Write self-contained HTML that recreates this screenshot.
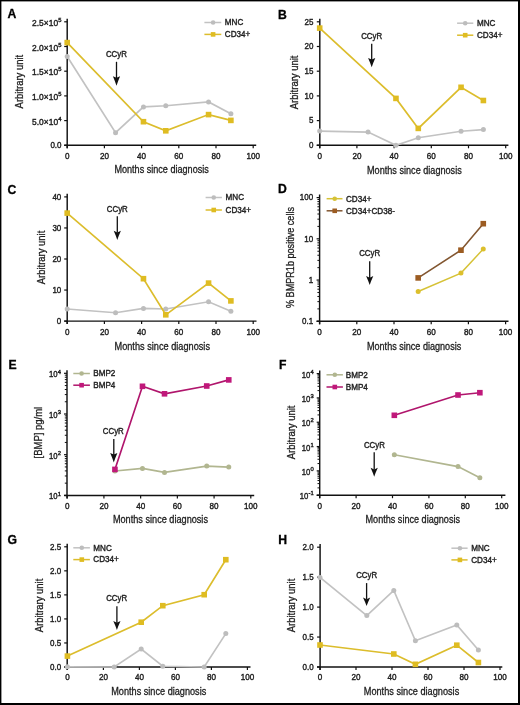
<!DOCTYPE html><html><head><meta charset="utf-8"><title>Figure</title><style>html,body{margin:0;padding:0;background:#fff;width:520px;height:705px;overflow:hidden}svg{will-change:transform} svg text{font-family:"Liberation Sans", sans-serif;stroke:#1e1e1e;stroke-width:0.4px}</style></head><body><svg width="520" height="705" viewBox="0 0 520 705" style="display:block;font-family:"Liberation Sans", sans-serif">
<rect x="0" y="0" width="520" height="705" fill="#fff"/>
<text x="7.60" y="18.10" font-size="12.2" text-anchor="start" font-weight="bold" fill="#000" style="stroke:#000;stroke-width:0.3px">A</text>
<line x1="67.20" y1="18.70" x2="67.20" y2="148.30" stroke="#111" stroke-width="1.45"/>
<line x1="64.20" y1="145.30" x2="67.20" y2="145.30" stroke="#111" stroke-width="1.2"/>
<text x="61.50" y="148.10" font-size="9.0" text-anchor="end" fill="#1e1e1e" textLength="11.12" lengthAdjust="spacingAndGlyphs">0.0</text>
<line x1="64.20" y1="120.60" x2="67.20" y2="120.60" stroke="#111" stroke-width="1.2"/>
<text x="58.07" y="124.60" font-size="9.0" text-anchor="end" fill="#1e1e1e" textLength="26.00" lengthAdjust="spacingAndGlyphs">5.0×10</text><text x="58.27" y="120.80" font-size="5.8" fill="#1e1e1e" textLength="3.23" lengthAdjust="spacingAndGlyphs">4</text>
<line x1="64.20" y1="95.90" x2="67.20" y2="95.90" stroke="#111" stroke-width="1.2"/>
<text x="58.07" y="99.90" font-size="9.0" text-anchor="end" fill="#1e1e1e" textLength="26.00" lengthAdjust="spacingAndGlyphs">1.0×10</text><text x="58.27" y="96.10" font-size="5.8" fill="#1e1e1e" textLength="3.23" lengthAdjust="spacingAndGlyphs">5</text>
<line x1="64.20" y1="71.20" x2="67.20" y2="71.20" stroke="#111" stroke-width="1.2"/>
<text x="58.07" y="75.20" font-size="9.0" text-anchor="end" fill="#1e1e1e" textLength="26.00" lengthAdjust="spacingAndGlyphs">1.5×10</text><text x="58.27" y="71.40" font-size="5.8" fill="#1e1e1e" textLength="3.23" lengthAdjust="spacingAndGlyphs">5</text>
<line x1="64.20" y1="46.50" x2="67.20" y2="46.50" stroke="#111" stroke-width="1.2"/>
<text x="58.07" y="50.50" font-size="9.0" text-anchor="end" fill="#1e1e1e" textLength="26.00" lengthAdjust="spacingAndGlyphs">2.0×10</text><text x="58.27" y="46.70" font-size="5.8" fill="#1e1e1e" textLength="3.23" lengthAdjust="spacingAndGlyphs">5</text>
<line x1="64.20" y1="21.80" x2="67.20" y2="21.80" stroke="#111" stroke-width="1.2"/>
<text x="58.07" y="25.80" font-size="9.0" text-anchor="end" fill="#1e1e1e" textLength="26.00" lengthAdjust="spacingAndGlyphs">2.5×10</text><text x="58.27" y="22.00" font-size="5.8" fill="#1e1e1e" textLength="3.23" lengthAdjust="spacingAndGlyphs">5</text>
<line x1="64.20" y1="145.30" x2="256.20" y2="145.30" stroke="#111" stroke-width="1.45"/>
<line x1="67.20" y1="145.30" x2="67.20" y2="148.30" stroke="#111" stroke-width="1.2"/>
<text x="67.20" y="159.30" font-size="8.9" text-anchor="middle" font-weight="normal" fill="#1e1e1e" textLength="4.50" lengthAdjust="spacingAndGlyphs" >0</text>
<line x1="104.40" y1="145.30" x2="104.40" y2="148.30" stroke="#111" stroke-width="1.2"/>
<text x="104.40" y="159.30" font-size="8.9" text-anchor="middle" font-weight="normal" fill="#1e1e1e" textLength="9.01" lengthAdjust="spacingAndGlyphs" >20</text>
<line x1="141.60" y1="145.30" x2="141.60" y2="148.30" stroke="#111" stroke-width="1.2"/>
<text x="141.60" y="159.30" font-size="8.9" text-anchor="middle" font-weight="normal" fill="#1e1e1e" textLength="9.01" lengthAdjust="spacingAndGlyphs" >40</text>
<line x1="178.80" y1="145.30" x2="178.80" y2="148.30" stroke="#111" stroke-width="1.2"/>
<text x="178.80" y="159.30" font-size="8.9" text-anchor="middle" font-weight="normal" fill="#1e1e1e" textLength="9.01" lengthAdjust="spacingAndGlyphs" >60</text>
<line x1="216.00" y1="145.30" x2="216.00" y2="148.30" stroke="#111" stroke-width="1.2"/>
<text x="216.00" y="159.30" font-size="8.9" text-anchor="middle" font-weight="normal" fill="#1e1e1e" textLength="9.01" lengthAdjust="spacingAndGlyphs" >80</text>
<line x1="253.20" y1="145.30" x2="253.20" y2="148.30" stroke="#111" stroke-width="1.2"/>
<text x="253.20" y="159.30" font-size="8.9" text-anchor="middle" font-weight="normal" fill="#1e1e1e" textLength="13.51" lengthAdjust="spacingAndGlyphs" >100</text>
<text x="0" y="0" font-size="10.2" text-anchor="middle" fill="#1e1e1e" textLength="53.60" lengthAdjust="spacingAndGlyphs" style="stroke-width:0.3px" transform="translate(23.00,81.60) rotate(-90)">Arbitrary unit</text>
<text x="161.60" y="172.90" font-size="10.2" text-anchor="middle" font-weight="normal" fill="#1e1e1e" textLength="94.40" lengthAdjust="spacingAndGlyphs" style="stroke-width:0.3px">Months since diagnosis</text>
<line x1="204.40" y1="22.50" x2="221.30" y2="22.50" stroke="#c2c2c2" stroke-width="1.5"/>
<circle cx="213.10" cy="22.50" r="2.30" fill="#bdbdbd"/>
<text x="224.80" y="25.30" font-size="8.9" text-anchor="start" font-weight="normal" fill="#1e1e1e" textLength="18.45" lengthAdjust="spacingAndGlyphs" >MNC</text>
<line x1="204.40" y1="34.40" x2="221.30" y2="34.40" stroke="#dcbd2c" stroke-width="1.5"/>
<rect x="210.80" y="32.10" width="4.6" height="4.6" fill="#dfbc22"/>
<text x="224.80" y="37.20" font-size="8.9" text-anchor="start" font-weight="normal" fill="#1e1e1e" textLength="25.44" lengthAdjust="spacingAndGlyphs" >CD34+</text>
<text x="116.40" y="56.80" font-size="8.6" text-anchor="middle" font-weight="normal" fill="#1e1e1e" textLength="21.00" lengthAdjust="spacingAndGlyphs" >CCyR</text>
<line x1="116.50" y1="61.80" x2="116.50" y2="78.10" stroke="#111" stroke-width="1.3"/>
<path d="M112.90,76.20 L116.50,77.80 L120.10,76.20 Q117.70,81.80 116.50,85.80 Q115.30,81.80 112.90,76.20 Z" fill="#111"/>
<path d="M67.20,56.50 L115.56,132.70 L143.46,106.90 L165.78,105.80 L208.56,101.90 L230.88,113.80" fill="none" stroke="#c2c2c2" stroke-width="1.65" stroke-linejoin="miter"/>
<circle cx="67.20" cy="56.50" r="2.50" fill="#bdbdbd"/>
<circle cx="115.56" cy="132.70" r="2.50" fill="#bdbdbd"/>
<circle cx="143.46" cy="106.90" r="2.50" fill="#bdbdbd"/>
<circle cx="165.78" cy="105.80" r="2.50" fill="#bdbdbd"/>
<circle cx="208.56" cy="101.90" r="2.50" fill="#bdbdbd"/>
<circle cx="230.88" cy="113.80" r="2.50" fill="#bdbdbd"/>
<path d="M67.20,42.60 L143.46,121.70 L165.78,130.80 L208.56,114.60 L230.88,120.40" fill="none" stroke="#dcbd2c" stroke-width="1.65" stroke-linejoin="miter"/>
<rect x="64.40" y="39.80" width="5.6" height="5.6" fill="#dfbc22"/>
<rect x="140.66" y="118.90" width="5.6" height="5.6" fill="#dfbc22"/>
<rect x="162.98" y="128.00" width="5.6" height="5.6" fill="#dfbc22"/>
<rect x="205.76" y="111.80" width="5.6" height="5.6" fill="#dfbc22"/>
<rect x="228.08" y="117.60" width="5.6" height="5.6" fill="#dfbc22"/>
<text x="278.00" y="18.80" font-size="12.2" text-anchor="start" font-weight="bold" fill="#000" style="stroke:#000;stroke-width:0.3px">B</text>
<line x1="319.80" y1="18.70" x2="319.80" y2="148.30" stroke="#111" stroke-width="1.45"/>
<line x1="316.80" y1="145.30" x2="319.80" y2="145.30" stroke="#111" stroke-width="1.2"/>
<text x="313.50" y="148.10" font-size="9.0" text-anchor="end" fill="#1e1e1e" textLength="4.45" lengthAdjust="spacingAndGlyphs">0</text>
<line x1="316.80" y1="120.60" x2="319.80" y2="120.60" stroke="#111" stroke-width="1.2"/>
<text x="313.50" y="123.40" font-size="9.0" text-anchor="end" fill="#1e1e1e" textLength="4.45" lengthAdjust="spacingAndGlyphs">5</text>
<line x1="316.80" y1="95.90" x2="319.80" y2="95.90" stroke="#111" stroke-width="1.2"/>
<text x="313.50" y="98.70" font-size="9.0" text-anchor="end" fill="#1e1e1e" textLength="8.90" lengthAdjust="spacingAndGlyphs">10</text>
<line x1="316.80" y1="71.20" x2="319.80" y2="71.20" stroke="#111" stroke-width="1.2"/>
<text x="313.50" y="74.00" font-size="9.0" text-anchor="end" fill="#1e1e1e" textLength="8.90" lengthAdjust="spacingAndGlyphs">15</text>
<line x1="316.80" y1="46.50" x2="319.80" y2="46.50" stroke="#111" stroke-width="1.2"/>
<text x="313.50" y="49.30" font-size="9.0" text-anchor="end" fill="#1e1e1e" textLength="8.90" lengthAdjust="spacingAndGlyphs">20</text>
<line x1="316.80" y1="21.80" x2="319.80" y2="21.80" stroke="#111" stroke-width="1.2"/>
<text x="313.50" y="24.60" font-size="9.0" text-anchor="end" fill="#1e1e1e" textLength="8.90" lengthAdjust="spacingAndGlyphs">25</text>
<line x1="316.70" y1="145.30" x2="508.40" y2="145.30" stroke="#111" stroke-width="1.45"/>
<line x1="319.70" y1="145.30" x2="319.70" y2="148.30" stroke="#111" stroke-width="1.2"/>
<text x="319.70" y="159.30" font-size="8.9" text-anchor="middle" font-weight="normal" fill="#1e1e1e" textLength="4.50" lengthAdjust="spacingAndGlyphs" >0</text>
<line x1="356.90" y1="145.30" x2="356.90" y2="148.30" stroke="#111" stroke-width="1.2"/>
<text x="356.90" y="159.30" font-size="8.9" text-anchor="middle" font-weight="normal" fill="#1e1e1e" textLength="9.01" lengthAdjust="spacingAndGlyphs" >20</text>
<line x1="394.10" y1="145.30" x2="394.10" y2="148.30" stroke="#111" stroke-width="1.2"/>
<text x="394.10" y="159.30" font-size="8.9" text-anchor="middle" font-weight="normal" fill="#1e1e1e" textLength="9.01" lengthAdjust="spacingAndGlyphs" >40</text>
<line x1="431.30" y1="145.30" x2="431.30" y2="148.30" stroke="#111" stroke-width="1.2"/>
<text x="431.30" y="159.30" font-size="8.9" text-anchor="middle" font-weight="normal" fill="#1e1e1e" textLength="9.01" lengthAdjust="spacingAndGlyphs" >60</text>
<line x1="468.50" y1="145.30" x2="468.50" y2="148.30" stroke="#111" stroke-width="1.2"/>
<text x="468.50" y="159.30" font-size="8.9" text-anchor="middle" font-weight="normal" fill="#1e1e1e" textLength="9.01" lengthAdjust="spacingAndGlyphs" >80</text>
<line x1="505.70" y1="145.30" x2="505.70" y2="148.30" stroke="#111" stroke-width="1.2"/>
<text x="505.70" y="159.30" font-size="8.9" text-anchor="middle" font-weight="normal" fill="#1e1e1e" textLength="13.51" lengthAdjust="spacingAndGlyphs" >100</text>
<text x="0" y="0" font-size="10.2" text-anchor="middle" fill="#1e1e1e" textLength="53.60" lengthAdjust="spacingAndGlyphs" style="stroke-width:0.3px" transform="translate(298.20,82.40) rotate(-90)">Arbitrary unit</text>
<text x="414.38" y="174.20" font-size="10.2" text-anchor="middle" font-weight="normal" fill="#1e1e1e" textLength="94.75" lengthAdjust="spacingAndGlyphs" style="stroke-width:0.3px">Months since diagnosis</text>
<line x1="457.10" y1="23.20" x2="473.30" y2="23.20" stroke="#c2c2c2" stroke-width="1.5"/>
<circle cx="465.20" cy="23.20" r="2.30" fill="#bdbdbd"/>
<text x="477.00" y="26.00" font-size="8.9" text-anchor="start" font-weight="normal" fill="#1e1e1e" textLength="18.45" lengthAdjust="spacingAndGlyphs" >MNC</text>
<line x1="457.10" y1="35.20" x2="473.30" y2="35.20" stroke="#dcbd2c" stroke-width="1.5"/>
<rect x="462.90" y="32.90" width="4.6" height="4.6" fill="#dfbc22"/>
<text x="477.00" y="38.00" font-size="8.9" text-anchor="start" font-weight="normal" fill="#1e1e1e" textLength="25.44" lengthAdjust="spacingAndGlyphs" >CD34+</text>
<text x="371.70" y="39.00" font-size="8.6" text-anchor="middle" font-weight="normal" fill="#1e1e1e" textLength="21.00" lengthAdjust="spacingAndGlyphs" >CCyR</text>
<line x1="371.70" y1="43.80" x2="371.70" y2="59.90" stroke="#111" stroke-width="1.3"/>
<path d="M368.10,58.00 L371.70,59.60 L375.30,58.00 Q372.90,63.45 371.70,67.30 Q370.50,63.45 368.10,58.00 Z" fill="#111"/>
<path d="M319.70,131.10 L368.06,132.10 L395.96,145.30 L418.28,137.70 L461.06,131.20 L483.38,129.60" fill="none" stroke="#c2c2c2" stroke-width="1.65" stroke-linejoin="miter"/>
<circle cx="319.70" cy="131.10" r="2.50" fill="#bdbdbd"/>
<circle cx="368.06" cy="132.10" r="2.50" fill="#bdbdbd"/>
<circle cx="395.96" cy="145.30" r="2.50" fill="#bdbdbd"/>
<circle cx="418.28" cy="137.70" r="2.50" fill="#bdbdbd"/>
<circle cx="461.06" cy="131.20" r="2.50" fill="#bdbdbd"/>
<circle cx="483.38" cy="129.60" r="2.50" fill="#bdbdbd"/>
<path d="M319.70,28.10 L395.96,98.40 L418.28,128.40 L461.06,87.30 L483.38,100.50" fill="none" stroke="#dcbd2c" stroke-width="1.65" stroke-linejoin="miter"/>
<rect x="316.90" y="25.30" width="5.6" height="5.6" fill="#dfbc22"/>
<rect x="393.16" y="95.60" width="5.6" height="5.6" fill="#dfbc22"/>
<rect x="415.48" y="125.60" width="5.6" height="5.6" fill="#dfbc22"/>
<rect x="458.26" y="84.50" width="5.6" height="5.6" fill="#dfbc22"/>
<rect x="480.58" y="97.70" width="5.6" height="5.6" fill="#dfbc22"/>
<text x="7.60" y="193.90" font-size="12.2" text-anchor="start" font-weight="bold" fill="#000" style="stroke:#000;stroke-width:0.3px">C</text>
<line x1="67.20" y1="193.80" x2="67.20" y2="324.10" stroke="#111" stroke-width="1.45"/>
<line x1="64.20" y1="321.10" x2="67.20" y2="321.10" stroke="#111" stroke-width="1.2"/>
<text x="61.30" y="323.90" font-size="9.0" text-anchor="end" fill="#1e1e1e" textLength="4.45" lengthAdjust="spacingAndGlyphs">0</text>
<line x1="64.20" y1="290.05" x2="67.20" y2="290.05" stroke="#111" stroke-width="1.2"/>
<text x="61.30" y="292.85" font-size="9.0" text-anchor="end" fill="#1e1e1e" textLength="8.90" lengthAdjust="spacingAndGlyphs">10</text>
<line x1="64.20" y1="259.00" x2="67.20" y2="259.00" stroke="#111" stroke-width="1.2"/>
<text x="61.30" y="261.80" font-size="9.0" text-anchor="end" fill="#1e1e1e" textLength="8.90" lengthAdjust="spacingAndGlyphs">20</text>
<line x1="64.20" y1="227.95" x2="67.20" y2="227.95" stroke="#111" stroke-width="1.2"/>
<text x="61.30" y="230.75" font-size="9.0" text-anchor="end" fill="#1e1e1e" textLength="8.90" lengthAdjust="spacingAndGlyphs">30</text>
<line x1="64.20" y1="196.90" x2="67.20" y2="196.90" stroke="#111" stroke-width="1.2"/>
<text x="61.30" y="199.70" font-size="9.0" text-anchor="end" fill="#1e1e1e" textLength="8.90" lengthAdjust="spacingAndGlyphs">40</text>
<line x1="64.20" y1="321.10" x2="256.50" y2="321.10" stroke="#111" stroke-width="1.45"/>
<line x1="67.20" y1="321.10" x2="67.20" y2="324.10" stroke="#111" stroke-width="1.2"/>
<text x="67.20" y="335.10" font-size="8.9" text-anchor="middle" font-weight="normal" fill="#1e1e1e" textLength="4.50" lengthAdjust="spacingAndGlyphs" >0</text>
<line x1="104.40" y1="321.10" x2="104.40" y2="324.10" stroke="#111" stroke-width="1.2"/>
<text x="104.40" y="335.10" font-size="8.9" text-anchor="middle" font-weight="normal" fill="#1e1e1e" textLength="9.01" lengthAdjust="spacingAndGlyphs" >20</text>
<line x1="141.60" y1="321.10" x2="141.60" y2="324.10" stroke="#111" stroke-width="1.2"/>
<text x="141.60" y="335.10" font-size="8.9" text-anchor="middle" font-weight="normal" fill="#1e1e1e" textLength="9.01" lengthAdjust="spacingAndGlyphs" >40</text>
<line x1="178.80" y1="321.10" x2="178.80" y2="324.10" stroke="#111" stroke-width="1.2"/>
<text x="178.80" y="335.10" font-size="8.9" text-anchor="middle" font-weight="normal" fill="#1e1e1e" textLength="9.01" lengthAdjust="spacingAndGlyphs" >60</text>
<line x1="216.00" y1="321.10" x2="216.00" y2="324.10" stroke="#111" stroke-width="1.2"/>
<text x="216.00" y="335.10" font-size="8.9" text-anchor="middle" font-weight="normal" fill="#1e1e1e" textLength="9.01" lengthAdjust="spacingAndGlyphs" >80</text>
<line x1="253.20" y1="321.10" x2="253.20" y2="324.10" stroke="#111" stroke-width="1.2"/>
<text x="253.20" y="335.10" font-size="8.9" text-anchor="middle" font-weight="normal" fill="#1e1e1e" textLength="13.51" lengthAdjust="spacingAndGlyphs" >100</text>
<text x="0" y="0" font-size="10.2" text-anchor="middle" fill="#1e1e1e" textLength="53.60" lengthAdjust="spacingAndGlyphs" style="stroke-width:0.3px" transform="translate(44.60,257.50) rotate(-90)">Arbitrary unit</text>
<text x="162.25" y="350.00" font-size="10.2" text-anchor="middle" font-weight="normal" fill="#1e1e1e" textLength="95.50" lengthAdjust="spacingAndGlyphs" style="stroke-width:0.3px">Months since diagnosis</text>
<line x1="205.60" y1="197.50" x2="221.90" y2="197.50" stroke="#c2c2c2" stroke-width="1.5"/>
<circle cx="213.75" cy="197.50" r="2.30" fill="#bdbdbd"/>
<text x="225.60" y="200.30" font-size="8.9" text-anchor="start" font-weight="normal" fill="#1e1e1e" textLength="18.45" lengthAdjust="spacingAndGlyphs" >MNC</text>
<line x1="205.60" y1="210.00" x2="221.90" y2="210.00" stroke="#dcbd2c" stroke-width="1.5"/>
<rect x="211.45" y="207.70" width="4.6" height="4.6" fill="#dfbc22"/>
<text x="225.60" y="212.80" font-size="8.9" text-anchor="start" font-weight="normal" fill="#1e1e1e" textLength="25.44" lengthAdjust="spacingAndGlyphs" >CD34+</text>
<text x="117.30" y="211.50" font-size="8.6" text-anchor="middle" font-weight="normal" fill="#1e1e1e" textLength="21.00" lengthAdjust="spacingAndGlyphs" >CCyR</text>
<line x1="117.30" y1="216.20" x2="117.30" y2="232.70" stroke="#111" stroke-width="1.3"/>
<path d="M113.70,230.80 L117.30,232.40 L120.90,230.80 Q118.50,236.20 117.30,240.00 Q116.10,236.20 113.70,230.80 Z" fill="#111"/>
<path d="M67.20,309.00 L115.56,312.70 L143.46,308.40 L165.78,309.00 L208.56,301.80 L230.88,311.30" fill="none" stroke="#c2c2c2" stroke-width="1.65" stroke-linejoin="miter"/>
<circle cx="67.20" cy="309.00" r="2.50" fill="#bdbdbd"/>
<circle cx="115.56" cy="312.70" r="2.50" fill="#bdbdbd"/>
<circle cx="143.46" cy="308.40" r="2.50" fill="#bdbdbd"/>
<circle cx="165.78" cy="309.00" r="2.50" fill="#bdbdbd"/>
<circle cx="208.56" cy="301.80" r="2.50" fill="#bdbdbd"/>
<circle cx="230.88" cy="311.30" r="2.50" fill="#bdbdbd"/>
<path d="M67.20,213.10 L143.46,278.70 L165.78,314.80 L208.56,283.10 L230.88,300.90" fill="none" stroke="#dcbd2c" stroke-width="1.65" stroke-linejoin="miter"/>
<rect x="64.40" y="210.30" width="5.6" height="5.6" fill="#dfbc22"/>
<rect x="140.66" y="275.90" width="5.6" height="5.6" fill="#dfbc22"/>
<rect x="162.98" y="312.00" width="5.6" height="5.6" fill="#dfbc22"/>
<rect x="205.76" y="280.30" width="5.6" height="5.6" fill="#dfbc22"/>
<rect x="228.08" y="298.10" width="5.6" height="5.6" fill="#dfbc22"/>
<text x="278.00" y="193.20" font-size="12.2" text-anchor="start" font-weight="bold" fill="#000" style="stroke:#000;stroke-width:0.3px">D</text>
<line x1="319.60" y1="194.50" x2="319.60" y2="324.30" stroke="#111" stroke-width="1.45"/>
<line x1="316.60" y1="321.30" x2="319.60" y2="321.30" stroke="#111" stroke-width="1.2"/>
<text x="313.20" y="324.10" font-size="9.0" text-anchor="end" fill="#1e1e1e" textLength="11.12" lengthAdjust="spacingAndGlyphs">0.1</text>
<line x1="317.40" y1="308.89" x2="319.60" y2="308.89" stroke="#111" stroke-width="1.0"/>
<line x1="317.40" y1="301.63" x2="319.60" y2="301.63" stroke="#111" stroke-width="1.0"/>
<line x1="317.40" y1="296.48" x2="319.60" y2="296.48" stroke="#111" stroke-width="1.0"/>
<line x1="317.40" y1="292.48" x2="319.60" y2="292.48" stroke="#111" stroke-width="1.0"/>
<line x1="317.40" y1="289.21" x2="319.60" y2="289.21" stroke="#111" stroke-width="1.0"/>
<line x1="317.40" y1="286.45" x2="319.60" y2="286.45" stroke="#111" stroke-width="1.0"/>
<line x1="317.40" y1="284.06" x2="319.60" y2="284.06" stroke="#111" stroke-width="1.0"/>
<line x1="317.40" y1="281.95" x2="319.60" y2="281.95" stroke="#111" stroke-width="1.0"/>
<line x1="316.60" y1="280.07" x2="319.60" y2="280.07" stroke="#111" stroke-width="1.2"/>
<text x="313.20" y="282.87" font-size="9.0" text-anchor="end" fill="#1e1e1e" textLength="4.45" lengthAdjust="spacingAndGlyphs">1</text>
<line x1="317.40" y1="267.65" x2="319.60" y2="267.65" stroke="#111" stroke-width="1.0"/>
<line x1="317.40" y1="260.39" x2="319.60" y2="260.39" stroke="#111" stroke-width="1.0"/>
<line x1="317.40" y1="255.24" x2="319.60" y2="255.24" stroke="#111" stroke-width="1.0"/>
<line x1="317.40" y1="251.25" x2="319.60" y2="251.25" stroke="#111" stroke-width="1.0"/>
<line x1="317.40" y1="247.98" x2="319.60" y2="247.98" stroke="#111" stroke-width="1.0"/>
<line x1="317.40" y1="245.22" x2="319.60" y2="245.22" stroke="#111" stroke-width="1.0"/>
<line x1="317.40" y1="242.83" x2="319.60" y2="242.83" stroke="#111" stroke-width="1.0"/>
<line x1="317.40" y1="240.72" x2="319.60" y2="240.72" stroke="#111" stroke-width="1.0"/>
<line x1="316.60" y1="238.83" x2="319.60" y2="238.83" stroke="#111" stroke-width="1.2"/>
<text x="313.20" y="241.63" font-size="9.0" text-anchor="end" fill="#1e1e1e" textLength="8.90" lengthAdjust="spacingAndGlyphs">10</text>
<line x1="317.40" y1="226.42" x2="319.60" y2="226.42" stroke="#111" stroke-width="1.0"/>
<line x1="317.40" y1="219.16" x2="319.60" y2="219.16" stroke="#111" stroke-width="1.0"/>
<line x1="317.40" y1="214.01" x2="319.60" y2="214.01" stroke="#111" stroke-width="1.0"/>
<line x1="317.40" y1="210.01" x2="319.60" y2="210.01" stroke="#111" stroke-width="1.0"/>
<line x1="317.40" y1="206.75" x2="319.60" y2="206.75" stroke="#111" stroke-width="1.0"/>
<line x1="317.40" y1="203.99" x2="319.60" y2="203.99" stroke="#111" stroke-width="1.0"/>
<line x1="317.40" y1="201.60" x2="319.60" y2="201.60" stroke="#111" stroke-width="1.0"/>
<line x1="317.40" y1="199.49" x2="319.60" y2="199.49" stroke="#111" stroke-width="1.0"/>
<line x1="316.60" y1="197.60" x2="319.60" y2="197.60" stroke="#111" stroke-width="1.2"/>
<text x="313.20" y="200.40" font-size="9.0" text-anchor="end" fill="#1e1e1e" textLength="13.35" lengthAdjust="spacingAndGlyphs">100</text>
<line x1="316.60" y1="321.30" x2="508.50" y2="321.30" stroke="#111" stroke-width="1.45"/>
<line x1="319.60" y1="321.30" x2="319.60" y2="324.30" stroke="#111" stroke-width="1.2"/>
<text x="319.60" y="335.30" font-size="8.9" text-anchor="middle" font-weight="normal" fill="#1e1e1e" textLength="4.50" lengthAdjust="spacingAndGlyphs" >0</text>
<line x1="356.80" y1="321.30" x2="356.80" y2="324.30" stroke="#111" stroke-width="1.2"/>
<text x="356.80" y="335.30" font-size="8.9" text-anchor="middle" font-weight="normal" fill="#1e1e1e" textLength="9.01" lengthAdjust="spacingAndGlyphs" >20</text>
<line x1="394.00" y1="321.30" x2="394.00" y2="324.30" stroke="#111" stroke-width="1.2"/>
<text x="394.00" y="335.30" font-size="8.9" text-anchor="middle" font-weight="normal" fill="#1e1e1e" textLength="9.01" lengthAdjust="spacingAndGlyphs" >40</text>
<line x1="431.20" y1="321.30" x2="431.20" y2="324.30" stroke="#111" stroke-width="1.2"/>
<text x="431.20" y="335.30" font-size="8.9" text-anchor="middle" font-weight="normal" fill="#1e1e1e" textLength="9.01" lengthAdjust="spacingAndGlyphs" >60</text>
<line x1="468.40" y1="321.30" x2="468.40" y2="324.30" stroke="#111" stroke-width="1.2"/>
<text x="468.40" y="335.30" font-size="8.9" text-anchor="middle" font-weight="normal" fill="#1e1e1e" textLength="9.01" lengthAdjust="spacingAndGlyphs" >80</text>
<line x1="505.60" y1="321.30" x2="505.60" y2="324.30" stroke="#111" stroke-width="1.2"/>
<text x="505.60" y="335.30" font-size="8.9" text-anchor="middle" font-weight="normal" fill="#1e1e1e" textLength="13.51" lengthAdjust="spacingAndGlyphs" >100</text>
<text x="0" y="0" font-size="10.2" text-anchor="middle" fill="#1e1e1e" textLength="101.00" lengthAdjust="spacingAndGlyphs" style="stroke-width:0.3px" transform="translate(293.80,257.50) rotate(-90)">% BMPR1b positive cells</text>
<text x="414.12" y="350.00" font-size="10.2" text-anchor="middle" font-weight="normal" fill="#1e1e1e" textLength="94.25" lengthAdjust="spacingAndGlyphs" style="stroke-width:0.3px">Months since diagnosis</text>
<line x1="326.60" y1="198.70" x2="342.50" y2="198.70" stroke="#d6c236" stroke-width="1.5"/>
<circle cx="334.70" cy="198.70" r="2.30" fill="#d6c236"/>
<text x="346.00" y="201.50" font-size="8.9" text-anchor="start" font-weight="normal" fill="#1e1e1e" textLength="25.44" lengthAdjust="spacingAndGlyphs" >CD34+</text>
<line x1="326.60" y1="210.80" x2="342.50" y2="210.80" stroke="#825630" stroke-width="1.5"/>
<rect x="332.40" y="208.50" width="4.6" height="4.6" fill="#9c5c22"/>
<text x="346.00" y="213.60" font-size="8.9" text-anchor="start" font-weight="normal" fill="#1e1e1e" textLength="48.85" lengthAdjust="spacingAndGlyphs" >CD34+CD38-</text>
<text x="369.70" y="256.30" font-size="8.6" text-anchor="middle" font-weight="normal" fill="#1e1e1e" textLength="21.00" lengthAdjust="spacingAndGlyphs" >CCyR</text>
<line x1="369.70" y1="261.20" x2="369.70" y2="278.00" stroke="#111" stroke-width="1.3"/>
<path d="M366.10,276.10 L369.70,277.70 L373.30,276.10 Q370.90,281.40 369.70,285.10 Q368.50,281.40 366.10,276.10 Z" fill="#111"/>
<path d="M418.18,277.90 L460.96,250.20 L483.28,223.70" fill="none" stroke="#825630" stroke-width="1.6" stroke-linejoin="miter"/>
<rect x="415.38" y="275.10" width="5.6" height="5.6" fill="#9c5c22"/>
<rect x="458.16" y="247.40" width="5.6" height="5.6" fill="#9c5c22"/>
<rect x="480.48" y="220.90" width="5.6" height="5.6" fill="#9c5c22"/>
<path d="M418.18,291.50 L460.96,273.10 L483.28,249.00" fill="none" stroke="#d6c236" stroke-width="1.45" stroke-linejoin="miter"/>
<circle cx="418.18" cy="291.50" r="2.50" fill="#dcbf2c"/>
<circle cx="460.96" cy="273.10" r="2.50" fill="#dcbf2c"/>
<circle cx="483.28" cy="249.00" r="2.50" fill="#dcbf2c"/>
<text x="8.40" y="369.20" font-size="12.2" text-anchor="start" font-weight="bold" fill="#000" style="stroke:#000;stroke-width:0.3px">E</text>
<line x1="67.00" y1="370.20" x2="67.00" y2="498.40" stroke="#111" stroke-width="1.45"/>
<line x1="64.00" y1="495.40" x2="67.00" y2="495.40" stroke="#111" stroke-width="1.2"/>
<text x="57.57" y="499.40" font-size="9.0" text-anchor="end" fill="#1e1e1e" textLength="8.60" lengthAdjust="spacingAndGlyphs">10</text><text x="57.77" y="495.60" font-size="5.8" fill="#1e1e1e" textLength="3.23" lengthAdjust="spacingAndGlyphs">1</text>
<line x1="64.80" y1="483.15" x2="67.00" y2="483.15" stroke="#111" stroke-width="1.0"/>
<line x1="64.80" y1="475.98" x2="67.00" y2="475.98" stroke="#111" stroke-width="1.0"/>
<line x1="64.80" y1="470.90" x2="67.00" y2="470.90" stroke="#111" stroke-width="1.0"/>
<line x1="64.80" y1="466.95" x2="67.00" y2="466.95" stroke="#111" stroke-width="1.0"/>
<line x1="64.80" y1="463.73" x2="67.00" y2="463.73" stroke="#111" stroke-width="1.0"/>
<line x1="64.80" y1="461.00" x2="67.00" y2="461.00" stroke="#111" stroke-width="1.0"/>
<line x1="64.80" y1="458.64" x2="67.00" y2="458.64" stroke="#111" stroke-width="1.0"/>
<line x1="64.80" y1="456.56" x2="67.00" y2="456.56" stroke="#111" stroke-width="1.0"/>
<line x1="64.00" y1="454.70" x2="67.00" y2="454.70" stroke="#111" stroke-width="1.2"/>
<text x="57.57" y="458.70" font-size="9.0" text-anchor="end" fill="#1e1e1e" textLength="8.60" lengthAdjust="spacingAndGlyphs">10</text><text x="57.77" y="454.90" font-size="5.8" fill="#1e1e1e" textLength="3.23" lengthAdjust="spacingAndGlyphs">2</text>
<line x1="64.80" y1="442.45" x2="67.00" y2="442.45" stroke="#111" stroke-width="1.0"/>
<line x1="64.80" y1="435.28" x2="67.00" y2="435.28" stroke="#111" stroke-width="1.0"/>
<line x1="64.80" y1="430.20" x2="67.00" y2="430.20" stroke="#111" stroke-width="1.0"/>
<line x1="64.80" y1="426.25" x2="67.00" y2="426.25" stroke="#111" stroke-width="1.0"/>
<line x1="64.80" y1="423.03" x2="67.00" y2="423.03" stroke="#111" stroke-width="1.0"/>
<line x1="64.80" y1="420.30" x2="67.00" y2="420.30" stroke="#111" stroke-width="1.0"/>
<line x1="64.80" y1="417.94" x2="67.00" y2="417.94" stroke="#111" stroke-width="1.0"/>
<line x1="64.80" y1="415.86" x2="67.00" y2="415.86" stroke="#111" stroke-width="1.0"/>
<line x1="64.00" y1="414.00" x2="67.00" y2="414.00" stroke="#111" stroke-width="1.2"/>
<text x="57.57" y="418.00" font-size="9.0" text-anchor="end" fill="#1e1e1e" textLength="8.60" lengthAdjust="spacingAndGlyphs">10</text><text x="57.77" y="414.20" font-size="5.8" fill="#1e1e1e" textLength="3.23" lengthAdjust="spacingAndGlyphs">3</text>
<line x1="64.80" y1="401.75" x2="67.00" y2="401.75" stroke="#111" stroke-width="1.0"/>
<line x1="64.80" y1="394.58" x2="67.00" y2="394.58" stroke="#111" stroke-width="1.0"/>
<line x1="64.80" y1="389.50" x2="67.00" y2="389.50" stroke="#111" stroke-width="1.0"/>
<line x1="64.80" y1="385.55" x2="67.00" y2="385.55" stroke="#111" stroke-width="1.0"/>
<line x1="64.80" y1="382.33" x2="67.00" y2="382.33" stroke="#111" stroke-width="1.0"/>
<line x1="64.80" y1="379.60" x2="67.00" y2="379.60" stroke="#111" stroke-width="1.0"/>
<line x1="64.80" y1="377.24" x2="67.00" y2="377.24" stroke="#111" stroke-width="1.0"/>
<line x1="64.80" y1="375.16" x2="67.00" y2="375.16" stroke="#111" stroke-width="1.0"/>
<line x1="64.00" y1="373.30" x2="67.00" y2="373.30" stroke="#111" stroke-width="1.2"/>
<text x="57.57" y="377.30" font-size="9.0" text-anchor="end" fill="#1e1e1e" textLength="8.60" lengthAdjust="spacingAndGlyphs">10</text><text x="57.77" y="373.50" font-size="5.8" fill="#1e1e1e" textLength="3.23" lengthAdjust="spacingAndGlyphs">4</text>
<line x1="64.20" y1="495.40" x2="254.20" y2="495.40" stroke="#111" stroke-width="1.45"/>
<line x1="67.20" y1="495.40" x2="67.20" y2="498.40" stroke="#111" stroke-width="1.2"/>
<text x="67.20" y="509.40" font-size="8.9" text-anchor="middle" font-weight="normal" fill="#1e1e1e" textLength="4.50" lengthAdjust="spacingAndGlyphs" >0</text>
<line x1="103.92" y1="495.40" x2="103.92" y2="498.40" stroke="#111" stroke-width="1.2"/>
<text x="103.92" y="509.40" font-size="8.9" text-anchor="middle" font-weight="normal" fill="#1e1e1e" textLength="9.01" lengthAdjust="spacingAndGlyphs" >20</text>
<line x1="140.64" y1="495.40" x2="140.64" y2="498.40" stroke="#111" stroke-width="1.2"/>
<text x="140.64" y="509.40" font-size="8.9" text-anchor="middle" font-weight="normal" fill="#1e1e1e" textLength="9.01" lengthAdjust="spacingAndGlyphs" >40</text>
<line x1="177.36" y1="495.40" x2="177.36" y2="498.40" stroke="#111" stroke-width="1.2"/>
<text x="177.36" y="509.40" font-size="8.9" text-anchor="middle" font-weight="normal" fill="#1e1e1e" textLength="9.01" lengthAdjust="spacingAndGlyphs" >60</text>
<line x1="214.08" y1="495.40" x2="214.08" y2="498.40" stroke="#111" stroke-width="1.2"/>
<text x="214.08" y="509.40" font-size="8.9" text-anchor="middle" font-weight="normal" fill="#1e1e1e" textLength="9.01" lengthAdjust="spacingAndGlyphs" >80</text>
<line x1="250.80" y1="495.40" x2="250.80" y2="498.40" stroke="#111" stroke-width="1.2"/>
<text x="250.80" y="509.40" font-size="8.9" text-anchor="middle" font-weight="normal" fill="#1e1e1e" textLength="13.51" lengthAdjust="spacingAndGlyphs" >100</text>
<text x="0" y="0" font-size="10.2" text-anchor="middle" fill="#1e1e1e" textLength="51.60" lengthAdjust="spacingAndGlyphs" style="stroke-width:0.3px" transform="translate(42.40,432.60) rotate(-90)">[BMP] pg/ml</text>
<text x="160.45" y="523.00" font-size="10.2" text-anchor="middle" font-weight="normal" fill="#1e1e1e" textLength="95.10" lengthAdjust="spacingAndGlyphs" style="stroke-width:0.3px">Months since diagnosis</text>
<line x1="73.30" y1="373.50" x2="89.90" y2="373.50" stroke="#b1b690" stroke-width="1.5"/>
<circle cx="81.60" cy="373.50" r="2.30" fill="#b1b690"/>
<text x="93.30" y="376.30" font-size="8.9" text-anchor="start" font-weight="normal" fill="#1e1e1e" textLength="22.06" lengthAdjust="spacingAndGlyphs" >BMP2</text>
<line x1="73.30" y1="385.20" x2="89.90" y2="385.20" stroke="#b0156c" stroke-width="1.5"/>
<rect x="79.30" y="382.90" width="4.6" height="4.6" fill="#c0187a"/>
<text x="93.30" y="388.00" font-size="8.9" text-anchor="start" font-weight="normal" fill="#1e1e1e" textLength="22.06" lengthAdjust="spacingAndGlyphs" >BMP4</text>
<text x="113.30" y="433.80" font-size="8.6" text-anchor="middle" font-weight="normal" fill="#1e1e1e" textLength="21.00" lengthAdjust="spacingAndGlyphs" >CCyR</text>
<line x1="113.80" y1="439.00" x2="113.80" y2="454.90" stroke="#111" stroke-width="1.3"/>
<path d="M110.20,453.00 L113.80,454.60 L117.40,453.00 Q115.00,458.55 113.80,462.50 Q112.60,458.55 110.20,453.00 Z" fill="#111"/>
<path d="M114.94,471.00 L142.48,468.40 L164.51,472.40 L206.74,466.10 L228.77,467.10" fill="none" stroke="#b1b690" stroke-width="1.65" stroke-linejoin="miter"/>
<circle cx="114.94" cy="471.00" r="2.50" fill="#b1b690"/>
<circle cx="142.48" cy="468.40" r="2.50" fill="#b1b690"/>
<circle cx="164.51" cy="472.40" r="2.50" fill="#b1b690"/>
<circle cx="206.74" cy="466.10" r="2.50" fill="#b1b690"/>
<circle cx="228.77" cy="467.10" r="2.50" fill="#b1b690"/>
<path d="M114.94,469.40 L142.48,386.30 L164.51,393.80 L206.74,386.00 L228.77,379.90" fill="none" stroke="#b0156c" stroke-width="1.65" stroke-linejoin="miter"/>
<rect x="112.14" y="466.60" width="5.6" height="5.6" fill="#c0187a"/>
<rect x="139.68" y="383.50" width="5.6" height="5.6" fill="#c0187a"/>
<rect x="161.71" y="391.00" width="5.6" height="5.6" fill="#c0187a"/>
<rect x="203.94" y="383.20" width="5.6" height="5.6" fill="#c0187a"/>
<rect x="225.97" y="377.10" width="5.6" height="5.6" fill="#c0187a"/>
<text x="279.00" y="369.00" font-size="12.2" text-anchor="start" font-weight="bold" fill="#000" style="stroke:#000;stroke-width:0.3px">F</text>
<line x1="319.70" y1="370.50" x2="319.70" y2="498.20" stroke="#111" stroke-width="1.45"/>
<line x1="316.70" y1="495.20" x2="319.70" y2="495.20" stroke="#111" stroke-width="1.2"/>
<text x="308.34" y="499.20" font-size="9.0" text-anchor="end" fill="#1e1e1e" textLength="8.60" lengthAdjust="spacingAndGlyphs">10</text><text x="308.54" y="495.40" font-size="5.8" fill="#1e1e1e" textLength="5.16" lengthAdjust="spacingAndGlyphs">-1</text>
<line x1="317.50" y1="487.88" x2="319.70" y2="487.88" stroke="#111" stroke-width="1.0"/>
<line x1="317.50" y1="483.60" x2="319.70" y2="483.60" stroke="#111" stroke-width="1.0"/>
<line x1="317.50" y1="480.56" x2="319.70" y2="480.56" stroke="#111" stroke-width="1.0"/>
<line x1="317.50" y1="478.20" x2="319.70" y2="478.20" stroke="#111" stroke-width="1.0"/>
<line x1="317.50" y1="476.28" x2="319.70" y2="476.28" stroke="#111" stroke-width="1.0"/>
<line x1="317.50" y1="474.65" x2="319.70" y2="474.65" stroke="#111" stroke-width="1.0"/>
<line x1="317.50" y1="473.24" x2="319.70" y2="473.24" stroke="#111" stroke-width="1.0"/>
<line x1="317.50" y1="471.99" x2="319.70" y2="471.99" stroke="#111" stroke-width="1.0"/>
<line x1="316.70" y1="470.88" x2="319.70" y2="470.88" stroke="#111" stroke-width="1.2"/>
<text x="310.27" y="474.88" font-size="9.0" text-anchor="end" fill="#1e1e1e" textLength="8.60" lengthAdjust="spacingAndGlyphs">10</text><text x="310.47" y="471.08" font-size="5.8" fill="#1e1e1e" textLength="3.23" lengthAdjust="spacingAndGlyphs">0</text>
<line x1="317.50" y1="463.56" x2="319.70" y2="463.56" stroke="#111" stroke-width="1.0"/>
<line x1="317.50" y1="459.28" x2="319.70" y2="459.28" stroke="#111" stroke-width="1.0"/>
<line x1="317.50" y1="456.24" x2="319.70" y2="456.24" stroke="#111" stroke-width="1.0"/>
<line x1="317.50" y1="453.88" x2="319.70" y2="453.88" stroke="#111" stroke-width="1.0"/>
<line x1="317.50" y1="451.96" x2="319.70" y2="451.96" stroke="#111" stroke-width="1.0"/>
<line x1="317.50" y1="450.33" x2="319.70" y2="450.33" stroke="#111" stroke-width="1.0"/>
<line x1="317.50" y1="448.92" x2="319.70" y2="448.92" stroke="#111" stroke-width="1.0"/>
<line x1="317.50" y1="447.67" x2="319.70" y2="447.67" stroke="#111" stroke-width="1.0"/>
<line x1="316.70" y1="446.56" x2="319.70" y2="446.56" stroke="#111" stroke-width="1.2"/>
<text x="310.27" y="450.56" font-size="9.0" text-anchor="end" fill="#1e1e1e" textLength="8.60" lengthAdjust="spacingAndGlyphs">10</text><text x="310.47" y="446.76" font-size="5.8" fill="#1e1e1e" textLength="3.23" lengthAdjust="spacingAndGlyphs">1</text>
<line x1="317.50" y1="439.24" x2="319.70" y2="439.24" stroke="#111" stroke-width="1.0"/>
<line x1="317.50" y1="434.96" x2="319.70" y2="434.96" stroke="#111" stroke-width="1.0"/>
<line x1="317.50" y1="431.92" x2="319.70" y2="431.92" stroke="#111" stroke-width="1.0"/>
<line x1="317.50" y1="429.56" x2="319.70" y2="429.56" stroke="#111" stroke-width="1.0"/>
<line x1="317.50" y1="427.64" x2="319.70" y2="427.64" stroke="#111" stroke-width="1.0"/>
<line x1="317.50" y1="426.01" x2="319.70" y2="426.01" stroke="#111" stroke-width="1.0"/>
<line x1="317.50" y1="424.60" x2="319.70" y2="424.60" stroke="#111" stroke-width="1.0"/>
<line x1="317.50" y1="423.35" x2="319.70" y2="423.35" stroke="#111" stroke-width="1.0"/>
<line x1="316.70" y1="422.24" x2="319.70" y2="422.24" stroke="#111" stroke-width="1.2"/>
<text x="310.27" y="426.24" font-size="9.0" text-anchor="end" fill="#1e1e1e" textLength="8.60" lengthAdjust="spacingAndGlyphs">10</text><text x="310.47" y="422.44" font-size="5.8" fill="#1e1e1e" textLength="3.23" lengthAdjust="spacingAndGlyphs">2</text>
<line x1="317.50" y1="414.92" x2="319.70" y2="414.92" stroke="#111" stroke-width="1.0"/>
<line x1="317.50" y1="410.64" x2="319.70" y2="410.64" stroke="#111" stroke-width="1.0"/>
<line x1="317.50" y1="407.60" x2="319.70" y2="407.60" stroke="#111" stroke-width="1.0"/>
<line x1="317.50" y1="405.24" x2="319.70" y2="405.24" stroke="#111" stroke-width="1.0"/>
<line x1="317.50" y1="403.32" x2="319.70" y2="403.32" stroke="#111" stroke-width="1.0"/>
<line x1="317.50" y1="401.69" x2="319.70" y2="401.69" stroke="#111" stroke-width="1.0"/>
<line x1="317.50" y1="400.28" x2="319.70" y2="400.28" stroke="#111" stroke-width="1.0"/>
<line x1="317.50" y1="399.03" x2="319.70" y2="399.03" stroke="#111" stroke-width="1.0"/>
<line x1="316.70" y1="397.92" x2="319.70" y2="397.92" stroke="#111" stroke-width="1.2"/>
<text x="310.27" y="401.92" font-size="9.0" text-anchor="end" fill="#1e1e1e" textLength="8.60" lengthAdjust="spacingAndGlyphs">10</text><text x="310.47" y="398.12" font-size="5.8" fill="#1e1e1e" textLength="3.23" lengthAdjust="spacingAndGlyphs">3</text>
<line x1="317.50" y1="390.60" x2="319.70" y2="390.60" stroke="#111" stroke-width="1.0"/>
<line x1="317.50" y1="386.32" x2="319.70" y2="386.32" stroke="#111" stroke-width="1.0"/>
<line x1="317.50" y1="383.28" x2="319.70" y2="383.28" stroke="#111" stroke-width="1.0"/>
<line x1="317.50" y1="380.92" x2="319.70" y2="380.92" stroke="#111" stroke-width="1.0"/>
<line x1="317.50" y1="379.00" x2="319.70" y2="379.00" stroke="#111" stroke-width="1.0"/>
<line x1="317.50" y1="377.37" x2="319.70" y2="377.37" stroke="#111" stroke-width="1.0"/>
<line x1="317.50" y1="375.96" x2="319.70" y2="375.96" stroke="#111" stroke-width="1.0"/>
<line x1="317.50" y1="374.71" x2="319.70" y2="374.71" stroke="#111" stroke-width="1.0"/>
<line x1="316.70" y1="373.60" x2="319.70" y2="373.60" stroke="#111" stroke-width="1.2"/>
<text x="310.27" y="377.60" font-size="9.0" text-anchor="end" fill="#1e1e1e" textLength="8.60" lengthAdjust="spacingAndGlyphs">10</text><text x="310.47" y="373.80" font-size="5.8" fill="#1e1e1e" textLength="3.23" lengthAdjust="spacingAndGlyphs">4</text>
<line x1="316.70" y1="495.20" x2="505.40" y2="495.20" stroke="#111" stroke-width="1.45"/>
<line x1="319.70" y1="495.20" x2="319.70" y2="498.20" stroke="#111" stroke-width="1.2"/>
<text x="319.70" y="509.20" font-size="8.9" text-anchor="middle" font-weight="normal" fill="#1e1e1e" textLength="4.50" lengthAdjust="spacingAndGlyphs" >0</text>
<line x1="356.10" y1="495.20" x2="356.10" y2="498.20" stroke="#111" stroke-width="1.2"/>
<text x="356.10" y="509.20" font-size="8.9" text-anchor="middle" font-weight="normal" fill="#1e1e1e" textLength="9.01" lengthAdjust="spacingAndGlyphs" >20</text>
<line x1="392.50" y1="495.20" x2="392.50" y2="498.20" stroke="#111" stroke-width="1.2"/>
<text x="392.50" y="509.20" font-size="8.9" text-anchor="middle" font-weight="normal" fill="#1e1e1e" textLength="9.01" lengthAdjust="spacingAndGlyphs" >40</text>
<line x1="428.90" y1="495.20" x2="428.90" y2="498.20" stroke="#111" stroke-width="1.2"/>
<text x="428.90" y="509.20" font-size="8.9" text-anchor="middle" font-weight="normal" fill="#1e1e1e" textLength="9.01" lengthAdjust="spacingAndGlyphs" >60</text>
<line x1="465.30" y1="495.20" x2="465.30" y2="498.20" stroke="#111" stroke-width="1.2"/>
<text x="465.30" y="509.20" font-size="8.9" text-anchor="middle" font-weight="normal" fill="#1e1e1e" textLength="9.01" lengthAdjust="spacingAndGlyphs" >80</text>
<line x1="501.70" y1="495.20" x2="501.70" y2="498.20" stroke="#111" stroke-width="1.2"/>
<text x="501.70" y="509.20" font-size="8.9" text-anchor="middle" font-weight="normal" fill="#1e1e1e" textLength="13.51" lengthAdjust="spacingAndGlyphs" >100</text>
<text x="0" y="0" font-size="10.2" text-anchor="middle" fill="#1e1e1e" textLength="53.60" lengthAdjust="spacingAndGlyphs" style="stroke-width:0.3px" transform="translate(294.90,432.40) rotate(-90)">Arbitrary unit</text>
<text x="412.75" y="523.00" font-size="10.2" text-anchor="middle" font-weight="normal" fill="#1e1e1e" textLength="94.50" lengthAdjust="spacingAndGlyphs" style="stroke-width:0.3px">Months since diagnosis</text>
<line x1="326.50" y1="374.80" x2="342.90" y2="374.80" stroke="#b1b690" stroke-width="1.5"/>
<circle cx="334.80" cy="374.80" r="2.30" fill="#b1b690"/>
<text x="345.80" y="377.60" font-size="8.9" text-anchor="start" font-weight="normal" fill="#1e1e1e" textLength="22.06" lengthAdjust="spacingAndGlyphs" >BMP2</text>
<line x1="326.50" y1="387.00" x2="342.90" y2="387.00" stroke="#b0156c" stroke-width="1.5"/>
<rect x="332.50" y="384.70" width="4.6" height="4.6" fill="#c0187a"/>
<text x="345.80" y="389.80" font-size="8.9" text-anchor="start" font-weight="normal" fill="#1e1e1e" textLength="22.06" lengthAdjust="spacingAndGlyphs" >BMP4</text>
<text x="374.40" y="447.70" font-size="8.6" text-anchor="middle" font-weight="normal" fill="#1e1e1e" textLength="21.00" lengthAdjust="spacingAndGlyphs" >CCyR</text>
<line x1="374.20" y1="452.30" x2="374.20" y2="469.70" stroke="#111" stroke-width="1.3"/>
<path d="M370.60,467.80 L374.20,469.40 L377.80,467.80 Q375.40,473.05 374.20,476.70 Q373.00,473.05 370.60,467.80 Z" fill="#111"/>
<path d="M394.32,454.70 L458.02,466.60 L479.86,477.70" fill="none" stroke="#b1b690" stroke-width="1.65" stroke-linejoin="miter"/>
<circle cx="394.32" cy="454.70" r="2.50" fill="#b1b690"/>
<circle cx="458.02" cy="466.60" r="2.50" fill="#b1b690"/>
<circle cx="479.86" cy="477.70" r="2.50" fill="#b1b690"/>
<path d="M394.32,415.30 L458.02,395.00 L479.86,392.70" fill="none" stroke="#b0156c" stroke-width="1.65" stroke-linejoin="miter"/>
<rect x="391.52" y="412.50" width="5.6" height="5.6" fill="#c0187a"/>
<rect x="455.22" y="392.20" width="5.6" height="5.6" fill="#c0187a"/>
<rect x="477.06" y="389.90" width="5.6" height="5.6" fill="#c0187a"/>
<text x="7.60" y="543.60" font-size="12.2" text-anchor="start" font-weight="bold" fill="#000" style="stroke:#000;stroke-width:0.3px">G</text>
<line x1="67.20" y1="543.70" x2="67.20" y2="670.00" stroke="#111" stroke-width="1.45"/>
<line x1="64.20" y1="667.00" x2="67.20" y2="667.00" stroke="#111" stroke-width="1.2"/>
<text x="61.20" y="669.80" font-size="9.0" text-anchor="end" fill="#1e1e1e" textLength="11.12" lengthAdjust="spacingAndGlyphs">0.0</text>
<line x1="64.20" y1="642.96" x2="67.20" y2="642.96" stroke="#111" stroke-width="1.2"/>
<text x="61.20" y="645.76" font-size="9.0" text-anchor="end" fill="#1e1e1e" textLength="11.12" lengthAdjust="spacingAndGlyphs">0.5</text>
<line x1="64.20" y1="618.92" x2="67.20" y2="618.92" stroke="#111" stroke-width="1.2"/>
<text x="61.20" y="621.72" font-size="9.0" text-anchor="end" fill="#1e1e1e" textLength="11.12" lengthAdjust="spacingAndGlyphs">1.0</text>
<line x1="64.20" y1="594.88" x2="67.20" y2="594.88" stroke="#111" stroke-width="1.2"/>
<text x="61.20" y="597.68" font-size="9.0" text-anchor="end" fill="#1e1e1e" textLength="11.12" lengthAdjust="spacingAndGlyphs">1.5</text>
<line x1="64.20" y1="570.84" x2="67.20" y2="570.84" stroke="#111" stroke-width="1.2"/>
<text x="61.20" y="573.64" font-size="9.0" text-anchor="end" fill="#1e1e1e" textLength="11.12" lengthAdjust="spacingAndGlyphs">2.0</text>
<line x1="64.20" y1="546.80" x2="67.20" y2="546.80" stroke="#111" stroke-width="1.2"/>
<text x="61.20" y="549.60" font-size="9.0" text-anchor="end" fill="#1e1e1e" textLength="11.12" lengthAdjust="spacingAndGlyphs">2.5</text>
<line x1="64.40" y1="667.00" x2="250.50" y2="667.00" stroke="#111" stroke-width="1.45"/>
<line x1="67.40" y1="667.00" x2="67.40" y2="670.00" stroke="#111" stroke-width="1.2"/>
<text x="67.40" y="680.00" font-size="8.9" text-anchor="middle" font-weight="normal" fill="#1e1e1e" textLength="4.50" lengthAdjust="spacingAndGlyphs" >0</text>
<line x1="103.40" y1="667.00" x2="103.40" y2="670.00" stroke="#111" stroke-width="1.2"/>
<text x="103.40" y="680.00" font-size="8.9" text-anchor="middle" font-weight="normal" fill="#1e1e1e" textLength="9.01" lengthAdjust="spacingAndGlyphs" >20</text>
<line x1="139.40" y1="667.00" x2="139.40" y2="670.00" stroke="#111" stroke-width="1.2"/>
<text x="139.40" y="680.00" font-size="8.9" text-anchor="middle" font-weight="normal" fill="#1e1e1e" textLength="9.01" lengthAdjust="spacingAndGlyphs" >40</text>
<line x1="175.40" y1="667.00" x2="175.40" y2="670.00" stroke="#111" stroke-width="1.2"/>
<text x="175.40" y="680.00" font-size="8.9" text-anchor="middle" font-weight="normal" fill="#1e1e1e" textLength="9.01" lengthAdjust="spacingAndGlyphs" >60</text>
<line x1="211.40" y1="667.00" x2="211.40" y2="670.00" stroke="#111" stroke-width="1.2"/>
<text x="211.40" y="680.00" font-size="8.9" text-anchor="middle" font-weight="normal" fill="#1e1e1e" textLength="9.01" lengthAdjust="spacingAndGlyphs" >80</text>
<line x1="247.40" y1="667.00" x2="247.40" y2="670.00" stroke="#111" stroke-width="1.2"/>
<text x="247.40" y="680.00" font-size="8.9" text-anchor="middle" font-weight="normal" fill="#1e1e1e" textLength="13.51" lengthAdjust="spacingAndGlyphs" >100</text>
<text x="0" y="0" font-size="10.2" text-anchor="middle" fill="#1e1e1e" textLength="53.60" lengthAdjust="spacingAndGlyphs" style="stroke-width:0.3px" transform="translate(42.80,605.50) rotate(-90)">Arbitrary unit</text>
<text x="158.75" y="695.00" font-size="10.2" text-anchor="middle" font-weight="normal" fill="#1e1e1e" textLength="95.00" lengthAdjust="spacingAndGlyphs" style="stroke-width:0.3px">Months since diagnosis</text>
<line x1="73.30" y1="547.80" x2="89.90" y2="547.80" stroke="#c2c2c2" stroke-width="1.5"/>
<circle cx="81.80" cy="547.80" r="2.30" fill="#bdbdbd"/>
<text x="93.30" y="550.60" font-size="8.9" text-anchor="start" font-weight="normal" fill="#1e1e1e" textLength="18.45" lengthAdjust="spacingAndGlyphs" >MNC</text>
<line x1="73.30" y1="559.60" x2="89.90" y2="559.60" stroke="#dcbd2c" stroke-width="1.5"/>
<rect x="79.50" y="557.30" width="4.6" height="4.6" fill="#dfbc22"/>
<text x="93.30" y="562.40" font-size="8.9" text-anchor="start" font-weight="normal" fill="#1e1e1e" textLength="25.44" lengthAdjust="spacingAndGlyphs" >CD34+</text>
<text x="116.70" y="601.30" font-size="8.6" text-anchor="middle" font-weight="normal" fill="#1e1e1e" textLength="21.00" lengthAdjust="spacingAndGlyphs" >CCyR</text>
<line x1="116.90" y1="606.20" x2="116.90" y2="623.00" stroke="#111" stroke-width="1.3"/>
<path d="M113.30,621.10 L116.90,622.70 L120.50,621.10 Q118.10,626.40 116.90,630.10 Q115.70,626.40 113.30,621.10 Z" fill="#111"/>
<path d="M67.40,666.80 L114.20,667.00 L141.20,649.10 L162.80,666.20 L204.20,667.00 L225.80,633.60" fill="none" stroke="#c2c2c2" stroke-width="1.65" stroke-linejoin="miter"/>
<circle cx="67.40" cy="666.80" r="2.50" fill="#bdbdbd"/>
<circle cx="114.20" cy="667.00" r="2.50" fill="#bdbdbd"/>
<circle cx="141.20" cy="649.10" r="2.50" fill="#bdbdbd"/>
<circle cx="162.80" cy="666.20" r="2.50" fill="#bdbdbd"/>
<circle cx="204.20" cy="667.00" r="2.50" fill="#bdbdbd"/>
<circle cx="225.80" cy="633.60" r="2.50" fill="#bdbdbd"/>
<path d="M67.40,656.10 L141.20,622.20 L162.80,605.70 L204.20,594.70 L225.80,559.70" fill="none" stroke="#dcbd2c" stroke-width="1.65" stroke-linejoin="miter"/>
<rect x="64.60" y="653.30" width="5.6" height="5.6" fill="#dfbc22"/>
<rect x="138.40" y="619.40" width="5.6" height="5.6" fill="#dfbc22"/>
<rect x="160.00" y="602.90" width="5.6" height="5.6" fill="#dfbc22"/>
<rect x="201.40" y="591.90" width="5.6" height="5.6" fill="#dfbc22"/>
<rect x="223.00" y="556.90" width="5.6" height="5.6" fill="#dfbc22"/>
<text x="278.30" y="543.60" font-size="12.2" text-anchor="start" font-weight="bold" fill="#000" style="stroke:#000;stroke-width:0.3px">H</text>
<line x1="320.10" y1="544.10" x2="320.10" y2="670.00" stroke="#111" stroke-width="1.45"/>
<line x1="317.10" y1="667.00" x2="320.10" y2="667.00" stroke="#111" stroke-width="1.2"/>
<text x="313.60" y="669.80" font-size="9.0" text-anchor="end" fill="#1e1e1e" textLength="11.12" lengthAdjust="spacingAndGlyphs">0.0</text>
<line x1="317.10" y1="637.05" x2="320.10" y2="637.05" stroke="#111" stroke-width="1.2"/>
<text x="313.60" y="639.85" font-size="9.0" text-anchor="end" fill="#1e1e1e" textLength="11.12" lengthAdjust="spacingAndGlyphs">0.5</text>
<line x1="317.10" y1="607.10" x2="320.10" y2="607.10" stroke="#111" stroke-width="1.2"/>
<text x="313.60" y="609.90" font-size="9.0" text-anchor="end" fill="#1e1e1e" textLength="11.12" lengthAdjust="spacingAndGlyphs">1.0</text>
<line x1="317.10" y1="577.15" x2="320.10" y2="577.15" stroke="#111" stroke-width="1.2"/>
<text x="313.60" y="579.95" font-size="9.0" text-anchor="end" fill="#1e1e1e" textLength="11.12" lengthAdjust="spacingAndGlyphs">1.5</text>
<line x1="317.10" y1="547.20" x2="320.10" y2="547.20" stroke="#111" stroke-width="1.2"/>
<text x="313.60" y="550.00" font-size="9.0" text-anchor="end" fill="#1e1e1e" textLength="11.12" lengthAdjust="spacingAndGlyphs">2.0</text>
<line x1="317.00" y1="667.00" x2="502.30" y2="667.00" stroke="#111" stroke-width="1.45"/>
<line x1="320.00" y1="667.00" x2="320.00" y2="670.00" stroke="#111" stroke-width="1.2"/>
<text x="320.00" y="680.00" font-size="8.9" text-anchor="middle" font-weight="normal" fill="#1e1e1e" textLength="4.50" lengthAdjust="spacingAndGlyphs" >0</text>
<line x1="356.00" y1="667.00" x2="356.00" y2="670.00" stroke="#111" stroke-width="1.2"/>
<text x="356.00" y="680.00" font-size="8.9" text-anchor="middle" font-weight="normal" fill="#1e1e1e" textLength="9.01" lengthAdjust="spacingAndGlyphs" >20</text>
<line x1="392.00" y1="667.00" x2="392.00" y2="670.00" stroke="#111" stroke-width="1.2"/>
<text x="392.00" y="680.00" font-size="8.9" text-anchor="middle" font-weight="normal" fill="#1e1e1e" textLength="9.01" lengthAdjust="spacingAndGlyphs" >40</text>
<line x1="428.00" y1="667.00" x2="428.00" y2="670.00" stroke="#111" stroke-width="1.2"/>
<text x="428.00" y="680.00" font-size="8.9" text-anchor="middle" font-weight="normal" fill="#1e1e1e" textLength="9.01" lengthAdjust="spacingAndGlyphs" >60</text>
<line x1="464.00" y1="667.00" x2="464.00" y2="670.00" stroke="#111" stroke-width="1.2"/>
<text x="464.00" y="680.00" font-size="8.9" text-anchor="middle" font-weight="normal" fill="#1e1e1e" textLength="9.01" lengthAdjust="spacingAndGlyphs" >80</text>
<line x1="500.00" y1="667.00" x2="500.00" y2="670.00" stroke="#111" stroke-width="1.2"/>
<text x="500.00" y="680.00" font-size="8.9" text-anchor="middle" font-weight="normal" fill="#1e1e1e" textLength="13.51" lengthAdjust="spacingAndGlyphs" >100</text>
<text x="0" y="0" font-size="10.2" text-anchor="middle" fill="#1e1e1e" textLength="53.60" lengthAdjust="spacingAndGlyphs" style="stroke-width:0.3px" transform="translate(295.00,605.50) rotate(-90)">Arbitrary unit</text>
<text x="411.50" y="695.00" font-size="10.2" text-anchor="middle" font-weight="normal" fill="#1e1e1e" textLength="95.50" lengthAdjust="spacingAndGlyphs" style="stroke-width:0.3px">Months since diagnosis</text>
<line x1="451.40" y1="548.20" x2="467.60" y2="548.20" stroke="#c2c2c2" stroke-width="1.5"/>
<circle cx="459.90" cy="548.20" r="2.30" fill="#bdbdbd"/>
<text x="471.20" y="551.00" font-size="8.9" text-anchor="start" font-weight="normal" fill="#1e1e1e" textLength="18.45" lengthAdjust="spacingAndGlyphs" >MNC</text>
<line x1="451.40" y1="559.90" x2="467.60" y2="559.90" stroke="#dcbd2c" stroke-width="1.5"/>
<rect x="457.60" y="557.60" width="4.6" height="4.6" fill="#dfbc22"/>
<text x="471.20" y="562.70" font-size="8.9" text-anchor="start" font-weight="normal" fill="#1e1e1e" textLength="25.44" lengthAdjust="spacingAndGlyphs" >CD34+</text>
<text x="366.70" y="577.80" font-size="8.6" text-anchor="middle" font-weight="normal" fill="#1e1e1e" textLength="21.00" lengthAdjust="spacingAndGlyphs" >CCyR</text>
<line x1="366.60" y1="583.10" x2="366.60" y2="599.50" stroke="#111" stroke-width="1.3"/>
<path d="M363.00,597.60 L366.60,599.20 L370.20,597.60 Q367.80,602.65 366.60,606.10 Q365.40,602.65 363.00,597.60 Z" fill="#111"/>
<path d="M320.00,577.40 L366.80,615.60 L393.80,590.40 L415.40,640.80 L456.80,625.00 L478.40,650.00" fill="none" stroke="#c2c2c2" stroke-width="1.65" stroke-linejoin="miter"/>
<circle cx="320.00" cy="577.40" r="2.50" fill="#bdbdbd"/>
<circle cx="366.80" cy="615.60" r="2.50" fill="#bdbdbd"/>
<circle cx="393.80" cy="590.40" r="2.50" fill="#bdbdbd"/>
<circle cx="415.40" cy="640.80" r="2.50" fill="#bdbdbd"/>
<circle cx="456.80" cy="625.00" r="2.50" fill="#bdbdbd"/>
<circle cx="478.40" cy="650.00" r="2.50" fill="#bdbdbd"/>
<path d="M320.00,645.00 L393.80,654.00 L415.40,664.30 L456.80,645.20 L478.40,662.50" fill="none" stroke="#dcbd2c" stroke-width="1.65" stroke-linejoin="miter"/>
<rect x="317.20" y="642.20" width="5.6" height="5.6" fill="#dfbc22"/>
<rect x="391.00" y="651.20" width="5.6" height="5.6" fill="#dfbc22"/>
<rect x="412.60" y="661.50" width="5.6" height="5.6" fill="#dfbc22"/>
<rect x="454.00" y="642.40" width="5.6" height="5.6" fill="#dfbc22"/>
<rect x="475.60" y="659.70" width="5.6" height="5.6" fill="#dfbc22"/>
<rect x="0" y="0" width="1.4" height="705" fill="#000"/>
<rect x="0" y="0" width="520" height="1.4" fill="#000"/>
<rect x="518" y="0" width="2" height="705" fill="#000"/>
<rect x="0" y="703" width="520" height="2" fill="#000"/>
</svg></body></html>
